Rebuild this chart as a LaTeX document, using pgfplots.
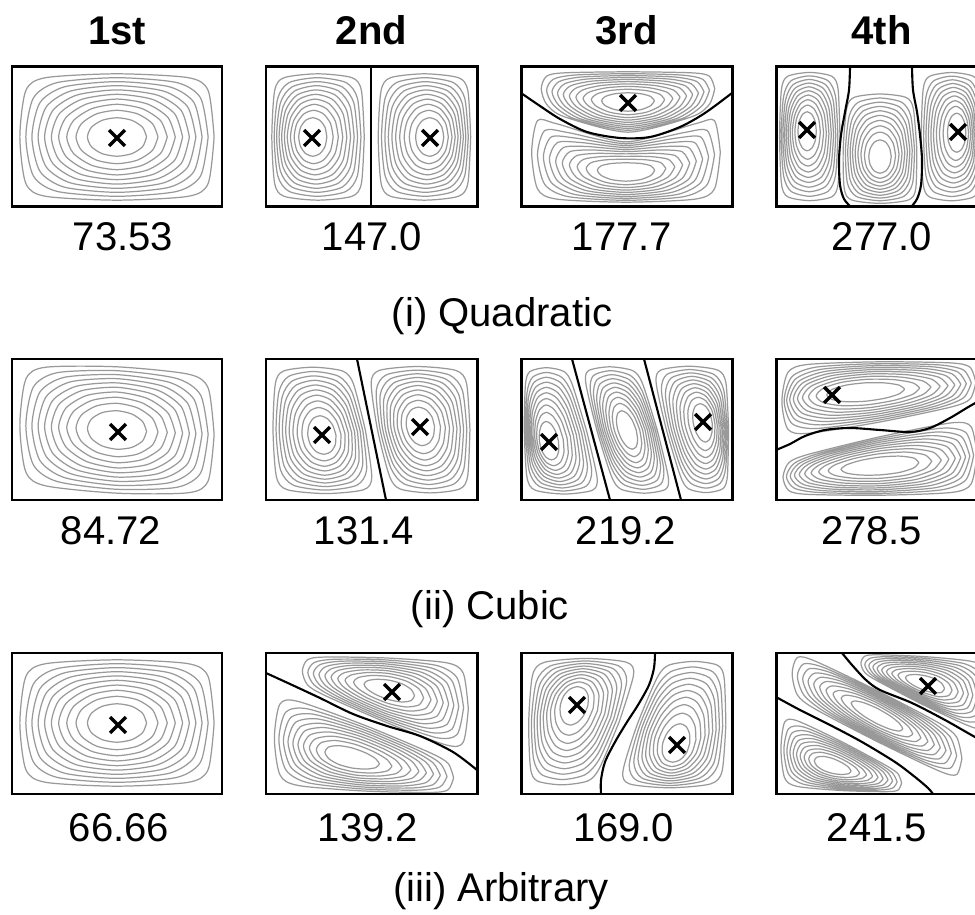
\documentclass[border=0pt]{standalone}
\usepackage{fontspec}
\setmainfont{Liberation Sans}
\usepackage{pgfplots}
\usepackage{pgfplotstable}
\pgfplotsset{compat=1.18}

% Nested closed level curves of one cell, normalised to [-1,1]^2.
% w = 1 - level radius (pulls the inner curves toward the extremum).
% A row "99 0 0" lies outside the plotted domain and breaks the path.
\pgfplotstableread[row sep=\\]{
x y w\\
.943 0 .057\\ .885 .693 .057\\ .693 .885 .057\\ 0 .943 .057\\ -.693 .885 .057\\ -.885 .693 .057\\ -.943 0 .057\\ -.885 -.693 .057\\ -.693 -.885 .057\\ 0 -.943 .057\\ .693 -.885 .057\\ .885 -.693 .057\\ .943 0 .057\\ 99 0 0\\
.885 0 .115\\ .812 .581 .115\\ .581 .812 .115\\ 0 .885 .115\\ -.581 .812 .115\\ -.812 .581 .115\\ -.885 0 .115\\ -.812 -.581 .115\\ -.581 -.812 .115\\ 0 -.885 .115\\ .581 -.812 .115\\ .812 -.581 .115\\ .885 0 .115\\ 99 0 0\\
.826 0 .174\\ .748 .512 .174\\ .512 .748 .174\\ 0 .826 .174\\ -.512 .748 .174\\ -.748 .512 .174\\ -.826 0 .174\\ -.748 -.512 .174\\ -.512 -.748 .174\\ 0 -.826 .174\\ .512 -.748 .174\\ .748 -.512 .174\\ .826 0 .174\\ 99 0 0\\
.766 0 .234\\ .686 .450 .234\\ .450 .686 .234\\ 0 .766 .234\\ -.450 .686 .234\\ -.686 .450 .234\\ -.766 0 .234\\ -.686 -.450 .234\\ -.450 -.686 .234\\ 0 -.766 .234\\ .450 -.686 .234\\ .686 -.450 .234\\ .766 0 .234\\ 99 0 0\\
.703 0 .297\\ .624 .394 .297\\ .394 .624 .297\\ 0 .703 .297\\ -.394 .624 .297\\ -.624 .394 .297\\ -.703 0 .297\\ -.624 -.394 .297\\ -.394 -.624 .297\\ 0 -.703 .297\\ .394 -.624 .297\\ .624 -.394 .297\\ .703 0 .297\\ 99 0 0\\
.637 0 .363\\ .561 .344 .363\\ .344 .561 .363\\ 0 .637 .363\\ -.344 .561 .363\\ -.561 .344 .363\\ -.637 0 .363\\ -.561 -.344 .363\\ -.344 -.561 .363\\ 0 -.637 .363\\ .344 -.561 .363\\ .561 -.344 .363\\ .637 0 .363\\ 99 0 0\\
.566 0 .434\\ .494 .293 .434\\ .293 .494 .434\\ 0 .566 .434\\ -.293 .494 .434\\ -.494 .293 .434\\ -.566 0 .434\\ -.494 -.293 .434\\ -.293 -.494 .434\\ 0 -.566 .434\\ .293 -.494 .434\\ .494 -.293 .434\\ .566 0 .434\\ 99 0 0\\
.488 0 .512\\ .423 .244 .512\\ .244 .423 .512\\ 0 .488 .512\\ -.244 .423 .512\\ -.423 .244 .512\\ -.488 0 .512\\ -.423 -.244 .512\\ -.244 -.423 .512\\ 0 -.488 .512\\ .244 -.423 .512\\ .423 -.244 .512\\ .488 0 .512\\ 99 0 0\\
.398 0 .602\\ .345 .199 .602\\ .199 .345 .602\\ 0 .398 .602\\ -.199 .345 .602\\ -.345 .199 .602\\ -.398 0 .602\\ -.345 -.199 .602\\ -.199 -.345 .602\\ 0 -.398 .602\\ .199 -.345 .602\\ .345 -.199 .602\\ .398 0 .602\\ 99 0 0\\
.287 0 .713\\ .249 .144 .713\\ .144 .249 .713\\ 0 .287 .713\\ -.144 .249 .713\\ -.249 .144 .713\\ -.287 0 .713\\ -.249 -.144 .713\\ -.144 -.249 .713\\ 0 -.287 .713\\ .144 -.249 .713\\ .249 -.144 .713\\ .287 0 .713\\
}\loops

\newcommand\lx{\thisrow{x}}
\newcommand\ly{\thisrow{y}}
\newcommand\lw{\thisrow{w}}
% one family of level curves, mapped into a cell of the panel
\newcommand\cell[2]{\addplot[ctr] table[x expr={#1}, y expr={#2}] {\loops};}
% panel frame: x-left, x-right, y-top, y-bottom
\newcommand\frm[4]{\addplot[frame] coordinates {(#1,#3)(#2,#3)(#2,#4)(#1,#4)(#1,#3)(#2,#3)};}

\tikzset{
  lbl/.style={anchor=base, inner sep=0pt, font=\fontsize{11.4}{13}\selectfont},
  ttl/.style={anchor=base, inner sep=0pt, font=\fontsize{11.4}{13}\selectfont\bfseries},
}

\begin{document}
\begin{tikzpicture}
\useasboundingbox (0,0) rectangle (97.5mm,91.5mm);
\begin{axis}[
  width=97.5mm, height=91.5mm, scale only axis,
  xmin=0, xmax=975, ymin=0, ymax=915, y dir=reverse,
  hide axis, clip=true,
  unbounded coords=jump, restrict x to domain=-100:1100,
  ctr/.style={color=black!40, line width=0.35pt, smooth, tension=0.45, no markers},
  nodal/.style={black, line width=0.6pt, smooth, no markers},
  frame/.style={black, line width=0.85pt, sharp plot, no markers},
]
% ---------------- (i) Quadratic ----------------
\cell{117+103*\lx}{137+67*\ly}
\cell{318.5+49*\lx-8*\lw}{137+67*\ly}
\cell{424+49*\lx+8*\lw}{137+67*\ly}
\cell{628+92*\lx}{102-15*\lx*\lx+(32-15*\lx*\lx)*\ly}
\cell{626+100*\lx}{172-22*\lx*\lx+(32+22*\lx*\lx)*\ly}
\cell{810+32*\lx-4*\lw}{137+68*\ly-8*\lw}
\cell{880+(39+2*\ly)*\lx}{148+58*\ly+12*\lw}
\cell{951+32*\lx+8*\lw}{137+68*\ly-6*\lw}
\addplot[nodal, sharp plot] coordinates {(371,67)(371,207)};
\addplot[nodal] coordinates {(521,93)(540,106)(560,119)(587,132)(620,138)(650,137)(680,127)(705,113)(732,93)};
\addplot[nodal] coordinates {(850,67)(849,90)(845,112)(841,135)(839,160)(840,185)(844,199)(851,207)};
\addplot[nodal] coordinates {(912,67)(913,90)(917,112)(920,135)(922,160)(921,185)(917,199)(911,207)};
% ---------------- (ii) Cubic ----------------
\cell{117+103*\lx}{430+67*\ly+5*\lx}
\cell{319+(49+7*\ly)*\lx+7*\ly+4*\lw}{430+67*\ly+7*\lw}
\cell{424+(49-7*\ly)*\lx+7*\ly-5*\lw}{430+67*\ly-5*\lw}
\cell{556+(33+9.5*\ly)*\lx+9.5*\ly-10*\lw}{430+67*\ly+15*\lw}
\cell{627+32*\lx+18.5*\ly}{430+67*\ly}
\cell{697+(33-9.25*\ly)*\lx+9.25*\ly+8*\lw}{430+67*\ly-10*\lw}
\cell{880+100*\lx*(1+0.5*\lw)-20*\lw}{392-10*\lx+(32-10*\lx)*\ly}
\cell{880+100*\lx*(1+0.5*\lw)}{466-12*\lx+(31+12*\lx)*\ly}
\addplot[nodal, sharp plot] coordinates {(357,359)(386,500)};
\addplot[nodal, sharp plot] coordinates {(572,359)(610,500)};
\addplot[nodal, sharp plot] coordinates {(644,359)(681,500)};
\addplot[nodal] coordinates {(776,450)(790,444)(805,436)(825,430)(850,428)(880,430)(910,432)(930,428)(950,418)(970,406)(990,395)};
% ---------------- (iii) Arbitrary ----------------
\cell{117+103*\lx}{723+67*\ly}
\cell{385+88*\lx+6*\lw}{690+20*\lx+(34+18*\lx)*\ly}
\cell{365+95*\lx-18*\lw}{758+21*\lx+(35-18*\lx)*\ly}
\cell{574-13*\ly+(48-13*\ly)*\lx}{723+67*\ly-24*\lw}
\cell{682-13*\ly+(47+13*\ly)*\lx-8*\lw}{723+67*\ly+28*\lw}
\cell{925+68*\lx}{681+19*\lx+(26+16*\lx)*\ly+3*\lw}
\cell{877+90*\lx}{716+45*\lx+27*\ly}
\cell{842+64*\lx-13*\lw}{766+18*\lx+(26-16*\lx)*\ly}
\addplot[nodal] coordinates {(266,673)(290,684)(320,698)(353,714)(387,726)(420,736)(453,752)(477,770)};
\addplot[nodal] coordinates {(655,653)(654,668)(649,685)(638,705)(627,722)(615,742)(605,762)(601,780)(601,794)};
\addplot[nodal] coordinates {(842,653)(852,665)(866,680)(880,690)(912,703)(945,720)(975,737)(990,744)};
\addplot[nodal] coordinates {(776,697)(800,710)(830,725)(862,742)(895,762)(915,777)(928,788)(933,794)};
% ---------------- frames ----------------
\frm{12}{222}{67}{207}\frm{266}{477}{67}{207}\frm{521}{732}{67}{207}\frm{776}{987}{67}{207}
\frm{12}{222}{359}{500}\frm{266}{477}{359}{500}\frm{521}{732}{359}{500}\frm{776}{987}{359}{500}
\frm{12}{222}{653}{794}\frm{266}{477}{653}{794}\frm{521}{732}{653}{794}\frm{776}{987}{653}{794}
% ---------------- extrema ----------------
\addplot[only marks, mark=x, mark size=3.2pt, mark options={black, line width=1pt}] coordinates {
  (117,138)(312,138)(430,138)(628,103)(807,130)(958,132)
  (118,432)(322,435)(420,427)(549,442)(703,422)(832,395)
  (118,725)(392,692)(577,705)(677,745)(928,686)};
% ---------------- labels ----------------
\node[ttl] at (117,45) {1st};
\node[ttl] at (371.5,45) {2nd};
\node[ttl] at (626.5,45) {3rd};
\node[ttl] at (881.5,45) {4th};
\node[lbl] at (123,251) {73.53};
\node[lbl] at (372,251) {147.0};
\node[lbl] at (622,251) {177.7};
\node[lbl] at (882,251) {277.0};
\node[lbl] at (502,327) {(i) Quadratic};
\node[lbl] at (111,545) {84.72};
\node[lbl] at (364,545) {131.4};
\node[lbl] at (626,545) {219.2};
\node[lbl] at (872,545) {278.5};
\node[lbl] at (490,620) {(ii) Cubic};
\node[lbl] at (119,841) {66.66};
\node[lbl] at (368,841) {139.2};
\node[lbl] at (624,841) {169.0};
\node[lbl] at (877,841) {241.5};
\node[lbl] at (501,901) {(iii) Arbitrary};
\end{axis}
\end{tikzpicture}
\end{document}
